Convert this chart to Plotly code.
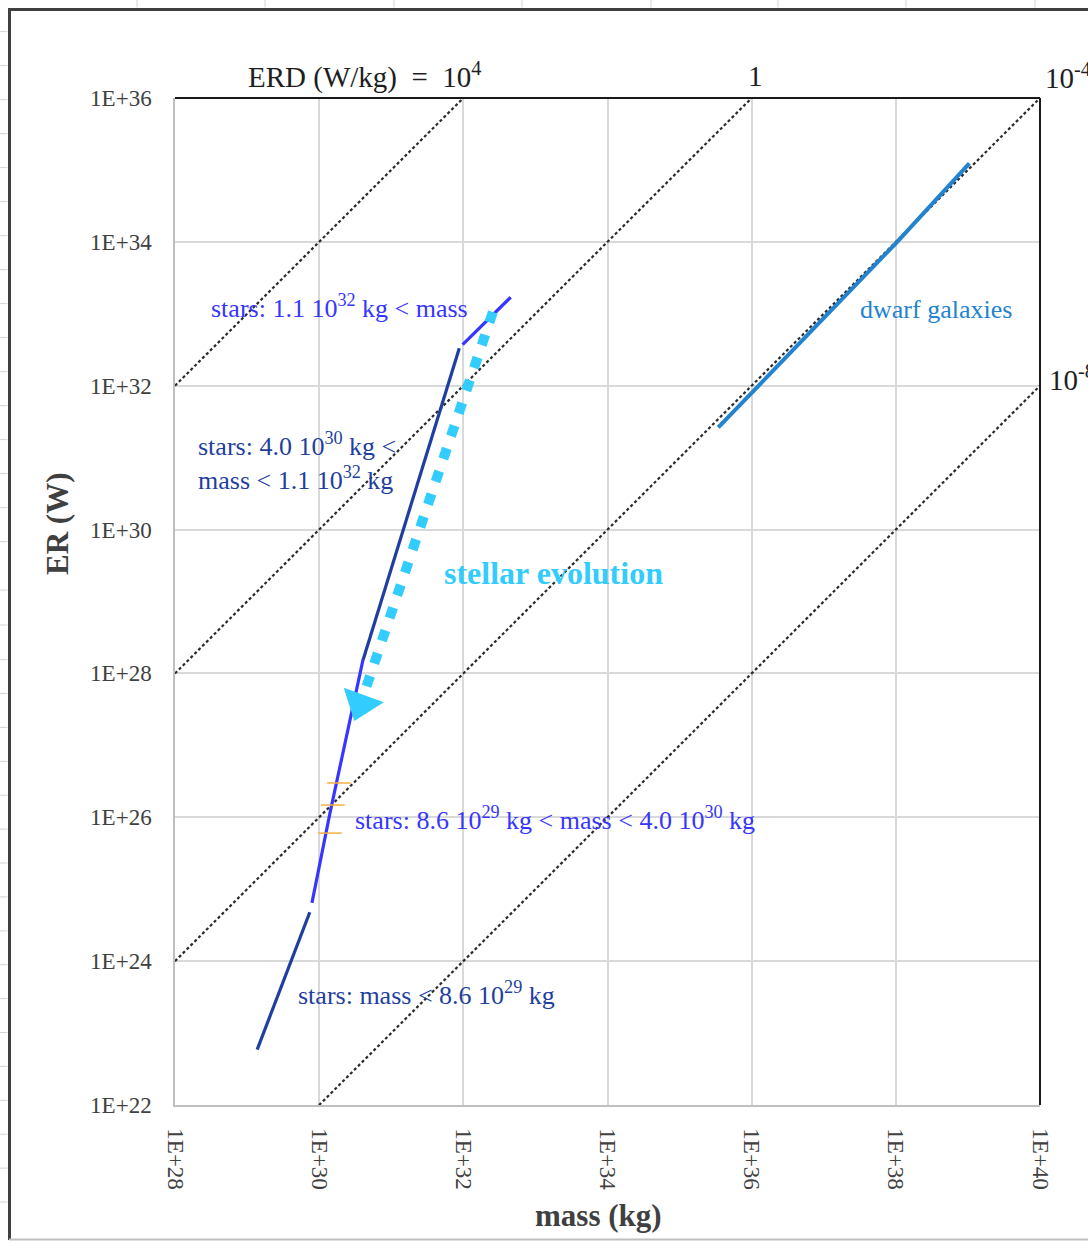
import numpy as np
import plotly.graph_objects as go

# ---------------- data (log10 values) ----------------
# stars, four mass ranges: log10(mass / kg), log10(ER / W)
seg1_logm = [29.14, 29.87]
seg1_loger = [22.77, 24.68]
seg2_logm = [29.90, 30.15, 30.61]
seg2_loger = [24.81, 26.06, 28.20]
seg3_logm = [30.61, 31.944]
seg3_loger = [28.19, 32.52]
seg4_logm = [31.99, 32.657]
seg4_loger = [32.57, 33.23]

# dwarf galaxies
gal_logm = [35.537, 38.0, 39.02]
gal_loger = [31.42, 33.98, 35.09]

# orange dash marks
mark_logm = [30.275, 30.19, 30.15]
mark_loger = [26.477, 26.17, 25.78]

# stellar evolution arrow (start, end of dotted shaft) and head
evo_logm = [32.41, 30.65]
evo_loger = [33.025, 27.80]
head_logm = [30.575]
head_loger = [27.58]

# constant-ERD guide lines (W/kg)
erd_values = [1e4, 1.0, 1e-4, 1e-8]
guide_mass = [1e28, 1e40]

x_tick_exp = [28, 30, 32, 34, 36, 38, 40]
y_tick_exp = [22, 24, 26, 28, 30, 32, 34, 36]
x_tick_text = ["1E+28", "1E+30", "1E+32", "1E+34", "1E+36", "1E+38", "1E+40"]
y_tick_text = ["1E+22", "1E+24", "1E+26", "1E+28", "1E+30", "1E+32", "1E+34", "1E+36"]

# ---------------- style ----------------
SERIF = "Times New Roman, Liberation Serif, serif"
NAVY = "#1F3FA0"
BLUE = "#3636FF"
GAL = "#2283D0"
CYAN = "#33CCFF"
ORANGE = "#F5B041"
TXT = "#404040"
DARK = "#1E1E1E"

W, H = 1088, 1241
ML, MR, MT, MB = 175, 48, 98, 136
PW, PH = W - ML - MR, H - MT - MB


def p(v):
    return np.power(10.0, np.asarray(v, dtype=float))


def px_x(x):
    return (x - ML) / PW


def px_y(y):
    return (H - MB - y) / PH


fig = go.Figure()

# guide lines
for erd in erd_values:
    fig.add_trace(go.Scatter(
        x=guide_mass, y=[erd * m for m in guide_mass], mode="lines",
        line=dict(color="#2A2A2A", width=2.2, dash="3px,2.5px"),
        hoverinfo="skip"))

# dwarf galaxies
fig.add_trace(go.Scatter(x=p(gal_logm), y=p(gal_loger), mode="lines",
                         line=dict(color=GAL, width=4)))

# stars
fig.add_trace(go.Scatter(x=p(seg1_logm), y=p(seg1_loger), mode="lines",
                         line=dict(color=NAVY, width=3.2)))
fig.add_trace(go.Scatter(x=p(seg3_logm), y=p(seg3_loger), mode="lines",
                         line=dict(color=NAVY, width=3.2)))
fig.add_trace(go.Scatter(x=p(seg2_logm), y=p(seg2_loger), mode="lines",
                         line=dict(color=BLUE, width=3.2)))
fig.add_trace(go.Scatter(x=p(seg4_logm), y=p(seg4_loger), mode="lines",
                         line=dict(color=BLUE, width=3.2)))

# orange marks
fig.add_trace(go.Scatter(x=p(mark_logm), y=p(mark_loger), mode="markers",
                         marker=dict(symbol="line-ew", size=17,
                                     line=dict(color=ORANGE, width=1.5))))

# stellar evolution arrow
fig.add_trace(go.Scatter(x=p(evo_logm), y=p(evo_loger), mode="lines",
                         line=dict(color=CYAN, width=10, dash="11px,13px")))
fig.add_trace(go.Scatter(x=p(head_logm), y=p(head_loger), mode="markers",
                         marker=dict(symbol="triangle-down", size=37, angle=20,
                                     color=CYAN, line=dict(width=0))))

axis_common = dict(
    type="log", showgrid=True, gridcolor="#D9D9D9", gridwidth=1.5,
    showline=True, linecolor="#BFBFBF", linewidth=1.5, zeroline=False,
    ticks="", tickfont=dict(family=SERIF, size=23, color=TXT),
    ticklabelstandoff=17,
)
fig.update_xaxes(range=[28, 40], tickvals=p(x_tick_exp), ticktext=x_tick_text,
                 tickangle=90, **axis_common)
fig.update_yaxes(range=[22, 36], tickvals=p(y_tick_exp), ticktext=y_tick_text,
                 **axis_common)

ann = []


def txt(text, lx, ly, color, size=26, anchor="left", bold=False):
    t = f"<b>{text}</b>" if bold else text
    ann.append(dict(text=t, x=lx, y=ly, xref="x", yref="y", showarrow=False,
                    xanchor=anchor, yanchor="middle", align="left",
                    font=dict(family=SERIF, size=size, color=color)))


def ptxt(text, pxx, pxy, color, size=29, anchor="left"):
    ann.append(dict(text=text, x=px_x(pxx), y=px_y(pxy), xref="paper", yref="paper",
                    showarrow=False, xanchor=anchor, yanchor="middle", align="left",
                    font=dict(family=SERIF, size=size, color=color)))


txt("stars: 1.1 10<sup>32</sup> kg &lt; mass", 28.472, 33.108, BLUE)
txt("stars: 4.0 10<sup>30</sup> kg &lt;<br>mass &lt; 1.1 10<sup>32</sup> kg", 28.291, 30.953, NAVY)
txt("stellar evolution", 31.70, 29.396, CYAN, size=32, bold=True)
txt("stars: 8.6 10<sup>29</sup> kg &lt; mass &lt; 4.0 10<sup>30</sup> kg", 30.469, 25.99, BLUE)
txt("stars: mass &lt; 8.6 10<sup>29</sup> kg", 29.679, 23.557, NAVY)
txt("dwarf galaxies", 37.476, 33.053, GAL)

# ERD labels (outside the plotting area)
ptxt("ERD (W/kg) &nbsp;= &nbsp;10<sup>4</sup>", 484, 76, DARK, anchor="right")
ptxt("1", 755, 76, DARK, anchor="center")
ptxt("10<sup>-4</sup>", 1043, 76, DARK)
ptxt("10<sup>-8</sup>", 1047, 378, DARK)

# axis titles
ann.append(dict(text="<b>ER (W)</b>", x=0, y=px_y(524), xref="paper", yref="paper",
                xshift=-118, showarrow=False, textangle=-90, xanchor="center",
                yanchor="middle", font=dict(family=SERIF, size=31, color=TXT)))
ann.append(dict(text="<b>mass (kg)</b>", x=px_x(598), y=px_y(1215), xref="paper",
                yref="paper", showarrow=False, xanchor="center", yanchor="middle",
                font=dict(family=SERIF, size=31, color=TXT)))

shapes = []
# plot-area top and right borders
shapes.append(dict(type="line", xref="paper", yref="paper", x0=0, x1=1, y0=1, y1=1,
                   line=dict(color="#1A1A1A", width=2)))
shapes.append(dict(type="line", xref="paper", yref="paper", x0=1, x1=1, y0=0, y1=1,
                   line=dict(color="#1A1A1A", width=2)))
# chart frame
shapes.append(dict(type="line", xref="paper", yref="paper", x0=px_x(8), x1=px_x(W + 5),
                   y0=px_y(9.5), y1=px_y(9.5), line=dict(color="#404040", width=3)))
shapes.append(dict(type="line", xref="paper", yref="paper", x0=px_x(9.5), x1=px_x(9.5),
                   y0=px_y(8), y1=px_y(1240), line=dict(color="#404040", width=3)))
shapes.append(dict(type="line", xref="paper", yref="paper", x0=px_x(9), x1=px_x(W + 5),
                   y0=px_y(1239.5), y1=px_y(1239.5), line=dict(color="#BFBFBF", width=2)))
# spreadsheet cell lines outside the frame
for gx in [137, 265, 394, 522, 651, 778, 906, 1035]:
    shapes.append(dict(type="line", xref="paper", yref="paper", x0=px_x(gx), x1=px_x(gx),
                       y0=px_y(0), y1=px_y(7.5), line=dict(color="#D4D4D4", width=1)))
row_lines = list(np.arange(31.6, 545, 34.0)) + [590, 625] + list(np.arange(659.6, 1210, 33.9))
for gy in row_lines:
    shapes.append(dict(type="line", xref="paper", yref="paper", x0=px_x(0), x1=px_x(7.5),
                       y0=px_y(gy), y1=px_y(gy), line=dict(color="#D4D4D4", width=1)))

fig.update_layout(
    width=W, height=H,
    margin=dict(l=ML, r=MR, t=MT, b=MB, autoexpand=False),
    paper_bgcolor="white", plot_bgcolor="white", showlegend=False,
    font=dict(family=SERIF, color=TXT),
    annotations=ann, shapes=shapes,
)

fig.write_html(
    "out.html",
    config={"displayModeBar": False},
    post_script="document.body.style.margin='0';document.body.style.overflow='hidden';",
)
